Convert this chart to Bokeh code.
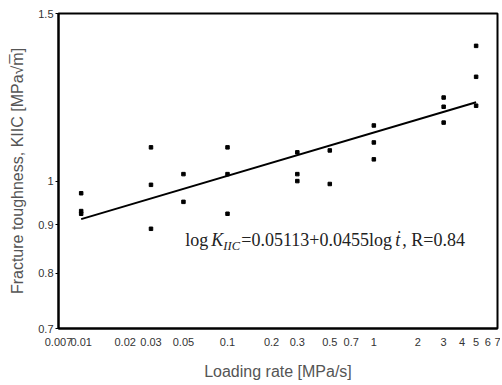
from bokeh.plotting import figure
from bokeh.models import FixedTicker, Label, Range1d
from bokeh.embed import file_html
from bokeh.resources import INLINE

# Data
rate_x = [0.01, 0.01, 0.01,
          0.03, 0.03, 0.03,
          0.05, 0.05,
          0.1, 0.1, 0.1,
          0.3, 0.3, 0.3,
          0.5, 0.5,
          1, 1, 1,
          3, 3, 3,
          5, 5, 5]
kic_y = [0.971, 0.930, 0.924,
         1.085, 0.991, 0.891,
         1.017, 0.951,
         1.085, 1.017, 0.924,
         1.072, 1.017, 1.000,
         1.077, 0.993,
         1.144, 1.098, 1.054,
         1.224, 1.197, 1.152,
         1.387, 1.287, 1.200]
fit_x = [0.01, 5]
fit_y = [0.912, 1.210]

x_ticks = [0.007, 0.01, 0.02, 0.03, 0.05, 0.1, 0.2, 0.3, 0.5, 0.7, 1, 2, 3, 4, 5, 6, 7]
x_labels = ["0.007", "0.01", "0.02", "0.03", "0.05", "0.1", "0.2", "0.3", "0.5", "0.7",
            "1", "2", "3", "4", "5", "6", "7"]
y_ticks = [0.7, 0.8, 0.9, 1.0, 1.5]
y_labels = ["0.7", "0.8", "0.9", "1", "1.5"]

p = figure(width=500, height=384, output_backend="svg", toolbar_location=None,
           x_axis_type="log", y_axis_type="log",
           x_range=Range1d(0.007, 7), y_range=Range1d(0.7, 1.5),
           min_border_left=58, min_border_right=3, min_border_top=13, min_border_bottom=56)

p.background_fill_color = "white"
p.border_fill_color = "white"
p.outline_line_color = "black"
p.outline_line_width = 2
p.grid.visible = False

p.xaxis.ticker = FixedTicker(ticks=x_ticks)
p.xaxis.major_label_overrides = {t: l for t, l in zip(x_ticks, x_labels)}
p.yaxis.ticker = FixedTicker(ticks=y_ticks)
p.yaxis.major_label_overrides = {t: l for t, l in zip(y_ticks, y_labels)}

for ax in (p.xaxis, p.yaxis):
    ax.axis_line_color = "black"
    ax.axis_line_width = 2
    ax.minor_tick_line_color = None
    ax.major_label_text_font = "Liberation Sans"
    ax.major_label_text_font_size = "11px"
    ax.major_label_text_color = "#333333"
    ax.axis_label_text_font = "Liberation Sans"
    ax.axis_label_text_font_size = "16px"
    ax.axis_label_text_font_style = "normal"
    ax.axis_label_text_color = "#555555"
p.xaxis.major_tick_line_color = None
p.xaxis.major_label_standoff = 3
p.yaxis.major_tick_out = 3
p.yaxis.major_tick_in = 0
p.yaxis.major_tick_line_color = "black"
p.yaxis.major_label_standoff = 2

p.xaxis.axis_label = "Loading rate [MPa/s]"
p.xaxis.axis_label_standoff = 14
p.yaxis.axis_label = "Fracture toughness, KIIC [MPa\u221am\u0305]"
p.yaxis.axis_label_standoff = 9

p.line(fit_x, fit_y, line_color="black", line_width=2)
p.scatter(rate_x, kic_y, marker="square", size=3.5, fill_color="black", line_color="black")

# regression equation
ax0, ay0 = 0.0515, 0.868
fs = "18px"
eq_pieces = [
    ("log", 0, 0, "normal", fs),
    ("K", 26, 0, "italic", fs),
    ("IIC", 38, -6, "italic", "12.5px"),
    ("=0.05113+0.0455log", 56, 0, "normal", fs),
    ("\u1e6b", 210, 0, "italic", fs),
    (", R=0.84", 217, 0, "normal", fs),
]
for txt, dx, dy, style, size in eq_pieces:
    p.add_layout(Label(x=ax0, y=ay0, x_offset=dx, y_offset=dy, text=txt,
                       text_font="Liberation Serif", text_font_size=size,
                       text_font_style=style, text_color="#222222",
                       text_baseline="alphabetic", text_align="left"))

open("out.html", "w").write(file_html(p, INLINE))
